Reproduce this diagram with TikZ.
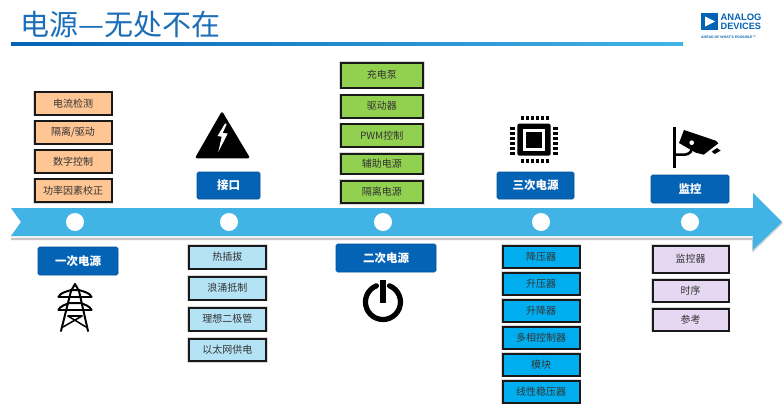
\documentclass[tikz,border=0pt]{standalone}
\usepackage{fontspec}
\setmainfont{Noto Sans CJK SC}
\newfontfamily\latinlogo{Liberation Sans}
\definecolor{adiblue}{HTML}{0563B5}
\definecolor{titleblue}{HTML}{1B6EB7}
\definecolor{skyband}{HTML}{41B4E5}
\definecolor{orangefill}{HTML}{FFC593}
\definecolor{greenfill}{HTML}{92D050}
\definecolor{paleblue}{HTML}{B5E3F6}
\definecolor{cyanfill}{HTML}{00AEEF}
\definecolor{lilacfill}{HTML}{E6D7F2}
\definecolor{textgrey}{HTML}{333333}
\tikzset{
  x=1pt,y=-1pt,
  itembox/.style={draw=black!90,line width=2pt,rectangle,inner sep=0pt,text=textgrey,font=\fontsize{10}{12}\selectfont},
  headbox/.style={draw=adiblue!85!black,line width=.6pt,fill=adiblue,rounded corners=1.5pt,rectangle,inner sep=0pt,text=white,font=\fontsize{11.5}{13}\selectfont\bfseries},
  iconline/.style={draw=black,line width=2pt,line cap=round,line join=round},
}
% name, x1, y1, x2, y2, style, text
\newcommand{\rbox}[7]{%
  \fill[black!15] (#2-1.5,#3-1.5) rectangle (#4+1.5,#5+1.5);
  \pgfmathsetmacro{\bw}{#4-#2}\pgfmathsetmacro{\bh}{#5-#3}%
  \node[#6,minimum width=\bw pt,minimum height=\bh pt] (#1) at ({(#2+#4)/2},{(#3+#5)/2}) {#7};}
\begin{document}
\begin{tikzpicture}
\useasboundingbox[fill=white] (0,0) rectangle (784,415);
% title
\node[anchor=west,inner sep=0pt,text=titleblue,font=\fontsize{29}{32}\selectfont] (title) at (20,24) {电源—无处不在};
\shade[left color=adiblue,right color=skyband] (11,42) rectangle (683,45);
% logo
\fill[adiblue] (701,13) rectangle (718,30);
\fill[white] (705,16.5) -- (715,21.5) -- (705,26.5) -- cycle;
\node[anchor=west,inner sep=0pt,text=adiblue,font=\latinlogo\bfseries\fontsize{9.4}{9.4}\selectfont] (logoa) at (720.5,17.5) {ANALOG};
\node[anchor=west,inner sep=0pt,text=adiblue,font=\latinlogo\bfseries\fontsize{9.2}{9.4}\selectfont] (logob) at (720.5,26.5) {DEVICES};
\node[anchor=west,inner sep=0pt,text=adiblue,font=\latinlogo\bfseries\fontsize{3.5}{4}\selectfont] (logoc) at (701,37) {AHEAD OF WHAT'S POSSIBLE™};
% main arrow
\fill[black!14] (11,211) -- (753,211) -- (753,195) -- (783,223.5) -- (753,252.5) -- (753,239.5) -- (11,239.5) -- (21,225) -- cycle;
\fill[white] (11,206.5) -- (751.5,206.5) -- (751.5,190) -- (784,222) -- (751.5,252) -- (751.5,237.5) -- (11,237.5) -- cycle;
\fill[black!22] (753,236.5) -- (752,238) -- (11,238) -- (11,240) -- (752,240) -- (752,251.5) -- (782.5,223) -- (781.5,222) -- (753,250) -- cycle;
\fill[black!18] (11,207) -- (22,222) -- (11,237) -- cycle;
\fill[white] (11,208) -- (21,222) -- (11,236) -- cycle;
\fill[skyband] (11,208) -- (753,208) -- (753,193) -- (782,222) -- (753,250) -- (753,236) -- (11,236) -- (21,222) -- cycle;
\foreach \n/\cx in {a/75,b/229,c/383,d/541,e/690}
  \node[circle,fill=white,inner sep=0pt,minimum size=18pt] (dot\n) at (\cx,222) {};
% orange
\rbox{o1}{34.5}{92}{111.5}{114.5}{itembox,fill=orangefill}{电流检测}
\rbox{o2}{34.5}{121}{111.5}{143.5}{itembox,fill=orangefill}{隔离/驱动}
\rbox{o3}{34.5}{150}{111.5}{172.5}{itembox,fill=orangefill}{数字控制}
\rbox{o4}{34.5}{179}{111.5}{202}{itembox,fill=orangefill}{功率因素校正}
% green
\rbox{g1}{340.5}{62.5}{423}{87.5}{itembox,fill=greenfill}{充电泵}
\rbox{g2}{340.5}{95}{423}{117.5}{itembox,fill=greenfill}{驱动器}
\rbox{g3}{340.5}{124}{423}{146.5}{itembox,fill=greenfill}{PWM控制}
\rbox{g4}{340.5}{153.5}{423}{173.5}{itembox,fill=greenfill}{辅助电源}
\rbox{g5}{340.5}{180.5}{423}{203}{itembox,fill=greenfill}{隔离电源}
% pale blue
\rbox{p1}{188.5}{245.5}{266}{268.5}{itembox,fill=paleblue}{热插拔}
\rbox{p2}{188.5}{276.5}{266}{299.5}{itembox,fill=paleblue}{浪涌抵制}
\rbox{p3}{188.5}{307.5}{266}{330.5}{itembox,fill=paleblue}{理想二极管}
\rbox{p4}{188.5}{338.5}{266}{361}{itembox,fill=paleblue}{以太网供电}
% cyan
\rbox{c1}{502.5}{245.5}{579.5}{267.5}{itembox,fill=cyanfill}{降压器}
\rbox{c2}{502.5}{272.5}{579.5}{294.5}{itembox,fill=cyanfill}{升压器}
\rbox{c3}{502.5}{299.5}{579.5}{321.5}{itembox,fill=cyanfill}{升降器}
\rbox{c4}{502.5}{326.5}{579.5}{348.5}{itembox,fill=cyanfill}{多相控制器}
\rbox{c5}{502.5}{353.5}{579.5}{375.5}{itembox,fill=cyanfill}{模块}
\rbox{c6}{502.5}{380.5}{579.5}{402.5}{itembox,fill=cyanfill}{线性稳压器}
% lilac
\rbox{l1}{652.5}{245.5}{728.5}{272.5}{itembox,fill=lilacfill}{监控器}
\rbox{l2}{652.5}{279.5}{728.5}{301.5}{itembox,fill=lilacfill}{时序}
\rbox{l3}{652.5}{308.5}{728.5}{330.5}{itembox,fill=lilacfill}{参考}
% headers
\node[headbox,minimum width=80pt,minimum height=28pt] (h1) at (78,261) {一次电源};
\node[headbox,minimum width=63pt,minimum height=27pt] (h2) at (228.5,185.5) {接口};
\node[headbox,minimum width=100pt,minimum height=28pt] (h3) at (386,258) {二次电源};
\node[headbox,minimum width=77pt,minimum height=27pt] (h4) at (535.5,185.5) {三次电源};
\node[headbox,minimum width=78pt,minimum height=28pt] (h5) at (690,189) {监控};
% warning triangle
\fill[black,line join=round,draw=black,line width=2.5pt] (222,113.5) -- (248,157) -- (197,157) -- cycle;
\fill[white] (225,123.5) -- (217.5,136) -- (221.7,136.7) -- (218.3,152) -- (227.7,133.5) -- (222.7,133) -- (226.7,124) -- cycle;
% chip
\begin{scope}[shift={(505,112)},scale=.3333]
  \fill[black,rounded corners=2pt] (37,35) rectangle (137,131);
  \fill[white] (55,52) rectangle (120,116);
  \fill[black] (63,60) rectangle (112,108);
  \foreach \i in {0,...,5}{
    \fill[black] (49+\i*15,12) rectangle ++(8,13);
    \fill[black] (49+\i*15,141) rectangle ++(8,13);
    \fill[black] (15,46+\i*15) rectangle ++(15,7);
    \fill[black] (145,46+\i*15) rectangle ++(15,7);
  }
\end{scope}
% camera
\begin{scope}[shift={(665,122)},scale=.3333]
  \draw[black,line width=3pt] (28,15) -- (28,137);
  \fill[black] (57,24) -- (152,56) -- (160,64) -- (116,98) -- (92,92) -- (42,63) -- cycle;
  \draw[black,line width=2.6pt] (28,98) -- (58,98) .. controls (72,98) and (84,88) .. (82,68);
  \fill[white] (80,62) circle (7);
  \fill[black] (140,89) -- (156,78) -- (167,86) -- (149,96) -- cycle;
\end{scope}
% tower
\begin{scope}[iconline]
  \draw (75,284) -- (71,291) -- (61,331);
  \draw (75,284) -- (79,291) -- (88,331);
  \draw (58.5,297) .. controls (60,293) and (65,292) .. (71,290) -- (79,290) .. controls (85,292) and (90,293) .. (91.5,297);
  \draw (58.5,297) -- (91.5,297);
  \draw (58.5,310) .. controls (60,306) and (65,305) .. (69,303) -- (81,303) .. controls (85,305) and (90,306) .. (91.5,310);
  \draw (58.5,310) -- (91.5,310);
  \draw[line width=1.5pt] (68,316) -- (86,327) (82,316) -- (63,327);
  \draw[line width=1.5pt] (68,316) -- (82,316);
\end{scope}
% power symbol
\draw[black,line width=5.2pt,line cap=round] (376.4,285.8) arc[start angle=248,end angle=-68,radius=17.5];
\fill[black] (380,280) rectangle (386,303);
\end{tikzpicture}
\end{document}
